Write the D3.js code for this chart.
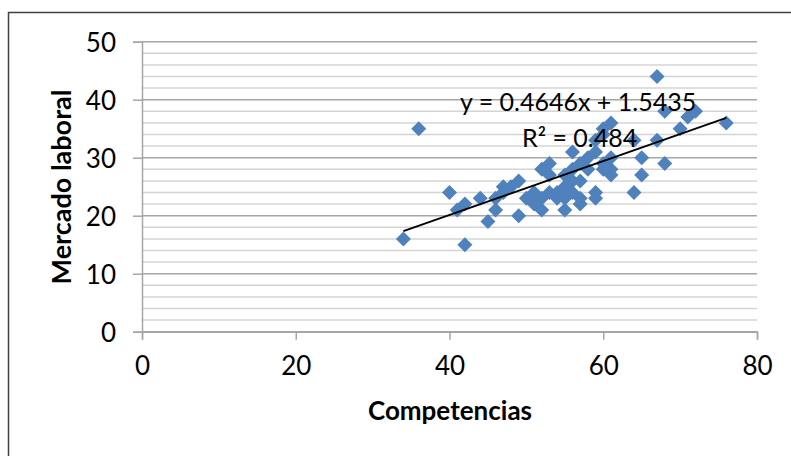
<!DOCTYPE html>
<html>
<head>
<meta charset="utf-8">
<script src="https://cdn.jsdelivr.net/npm/d3@7"></script>
<style>
  body { margin: 0; background: #fff; }
  svg text { font-family: Lato, "Open Sans", sans-serif; fill: #000; }
</style>
</head>
<body>
<div id="container"></div>
<script>
// competencias (x) vs mercado laboral (y)
var competencias = [34, 36, 40, 41, 42, 42, 44, 45, 46, 46, 47, 47, 48, 49, 49, 50, 51, 51, 52, 52, 52, 53, 53, 53, 54, 54, 55, 55, 55, 55, 56, 56, 56, 56, 57, 57, 57, 57, 58, 58, 59, 59, 59, 59, 60, 60, 60, 60, 61, 61, 61, 61, 64, 64, 65, 65, 67, 67, 68, 68, 70, 71, 72, 76];
var mercado      = [16, 35, 24, 21, 22, 15, 23, 19, 21, 23, 25, 24, 25, 26, 20, 23, 24, 22, 21, 28, 23, 29, 27, 24, 24, 23, 21, 23, 25, 27, 31, 28, 26, 24, 26, 22, 23, 29, 30, 28, 24, 23, 31, 33, 29, 34, 35, 28, 36, 28, 27, 30, 24, 33, 30, 27, 44, 33, 38, 29, 35, 37, 38, 36];

var slope = 0.4646, intercept = 1.5435;
var eqLabel = "y = 0.4646x + 1.5435";
var r2Label = "R² = 0.484";

var xTicks = [0, 20, 40, 60, 80];
var yTicks = [0, 10, 20, 30, 40, 50];
var yGrid = d3.range(0, 51, 2);

var W = 791, H = 456;
var svg = d3.select("#container").append("svg")
    .attr("width", W).attr("height", H);

// chart area border
svg.append("rect")
    .attr("x", 8.5).attr("y", 12.5)
    .attr("width", W + 20).attr("height", H + 20)
    .attr("fill", "none").attr("stroke", "#404040").attr("stroke-width", 1.5);

var x = d3.scaleLinear().domain([0, 80]).range([142, 757]);
var y = d3.scaleLinear().domain([0, 50]).range([331.7, 41.7]);

// gridlines
svg.append("g").selectAll("line")
    .data(yGrid)
    .enter().append("line")
    .attr("x1", x(0)).attr("x2", x(80))
    .attr("y1", function(d) { return y(d); })
    .attr("y2", function(d) { return y(d); })
    .attr("stroke", function(d) { return d % 10 == 0 ? "#a6a6a6" : "#d4d4d4"; })
    .attr("stroke-width", 1.5);

// axes
var yAxis = svg.append("g")
    .attr("transform", "translate(" + x(0) + ",0)")
    .call(d3.axisLeft(y).tickValues(yTicks).tickSize(9).tickPadding(17));
var xAxis = svg.append("g")
    .attr("transform", "translate(0," + y(0) + ")")
    .call(d3.axisBottom(x).tickValues(xTicks).tickSize(8).tickPadding(17));

[xAxis, yAxis].forEach(function(a) {
    a.select(".domain").attr("stroke", "#a6a6a6").attr("stroke-width", 1.5);
    a.selectAll(".tick line").attr("stroke", "#a6a6a6").attr("stroke-width", 1.5);
    a.selectAll(".tick text").attr("font-size", "26px").attr("fill", "#000")
        .style("font-family", "Lato, 'Open Sans', sans-serif");
});
yAxis.selectAll(".tick text").attr("dy", "0.36em");

// points
var pts = competencias.map(function(c, i) { return {x: c, y: mercado[i]}; });
svg.append("g").selectAll("path")
    .data(pts)
    .enter().append("path")
    .attr("d", d3.symbol(d3.symbolSquare, 112))
    .attr("transform", function(d) {
        return "translate(" + x(d.x) + "," + y(d.y) + ") rotate(45)";
    })
    .attr("fill", "#4f81bd");

// trendline
var xmin = d3.min(competencias), xmax = d3.max(competencias);
svg.append("line")
    .attr("x1", x(xmin)).attr("y1", y(slope * xmin + intercept))
    .attr("x2", x(xmax)).attr("y2", y(slope * xmax + intercept))
    .attr("stroke", "#000").attr("stroke-width", 1.8);

svg.append("text")
    .attr("x", 460).attr("y", 111)
    .attr("font-size", "25px")
    .text(eqLabel);
svg.append("text")
    .attr("x", 522).attr("y", 147)
    .attr("font-size", "25px")
    .text(r2Label);

// axis titles
svg.append("text")
    .attr("x", 450).attr("y", 420)
    .attr("text-anchor", "middle")
    .attr("font-size", "26px").attr("font-weight", "bold")
    .text("Competencias");
svg.append("text")
    .attr("transform", "translate(71,187) rotate(-90)")
    .attr("text-anchor", "middle")
    .attr("font-size", "27px").attr("font-weight", "bold")
    .text("Mercado laboral");
</script>
</body>
</html>
